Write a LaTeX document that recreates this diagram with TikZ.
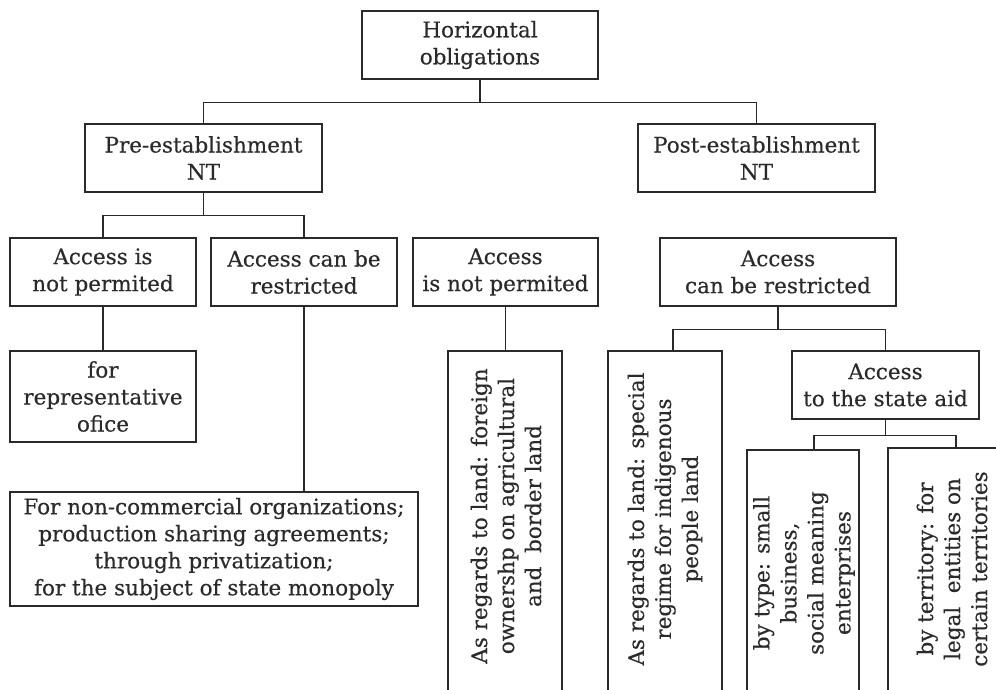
\documentclass[tikz,border=0pt]{standalone}
\usepackage{fontspec}
\setmainfont{DejaVu Serif}
\newfontfamily\inkfont[FakeBold=0.35]{DejaVu Serif}
\usetikzlibrary{calc}
\newcommand\fs{\inkfont\fontsize{21.5}{27}\selectfont}
\definecolor{ink}{HTML}{2A2A2A}
\tikzset{
  box/.style={draw=ink, text=ink, line width=1.2pt, inner sep=0pt, align=center, font=\fs},
  vtext/.style={rotate=90, align=center, text=ink, font=\fs, inner sep=0pt},
  link/.style={draw=ink, line width=1.2pt},
}
\begin{document}
\begin{tikzpicture}[x=1pt,y=-1pt]
\useasboundingbox (0,0) rectangle (996,689);
\clip (0,0) rectangle (996,689);
\fill[white] (0,0) rectangle (996,689);
% level 0
\node[box, minimum width=236pt, minimum height=68pt] (top) at (480,45) {Horizontal\\obligations};
% level 1
\node[box, minimum width=237pt, minimum height=68pt] (pre) at (203.5,158) {Pre-establishment\\NT};
\node[box, minimum width=237pt, minimum height=68pt] (post) at (756.5,158) {Post-establishment\\NT};
% level 2
\node[box, minimum width=186pt, minimum height=68pt] (a1) at (103,272) {Access is\\not permited};
\node[box, minimum width=186pt, minimum height=68pt] (a2) at (304,272) {Access can be\\restricted};
\node[box, minimum width=185pt, minimum height=68pt] (a3) at (505.5,272) {Access\\is not permited};
\node[box, minimum width=236pt, minimum height=68pt] (a4) at (778,272) {Access\\can be restricted};
% level 3
\node[box, minimum width=186pt, minimum height=91pt] (rep) at (103,396.5) {for\\representative\\ofice};
\node[box, minimum width=408pt, minimum height=114pt] (nc) at (214,549) {For non-commercial organizations;\\production sharing agreements;\\through privatization;\\for the subject of state monopoly};
\node[box, minimum width=114pt, minimum height=378pt] (v1) at (505,540) {};
\node[box, minimum width=114pt, minimum height=378pt] (v2) at (665,540) {};
\node[box, minimum width=187pt, minimum height=68pt] (aid) at (885.5,385) {Access\\to the state aid};
% level 4
\node[box, minimum width=112pt, minimum height=280pt] (bt) at (803,590) {};
\node[box, minimum width=114pt, minimum height=282pt] (bter) at (945,589) {};
% rotated texts
\node[vtext] (v1t) at (506,516) {As regards to land: foreign\\ownershp on agricultural\\and\ \ border land};
\node[vtext] (v2t) at (665,519) {As regards to land: special\\regime for indigenous\\people land};
\node[vtext] (btt) at (804,573) {by type: small\\business,\\social meaning\\enterprises};
\node[vtext] (btert) at (952,569) {by territory: for\\legal\ \ entities on\\certain territories};
% connectors
\draw[link] (top.south) -- ++(0,23) -| (pre.north);
\draw[link] (top.south) -- ++(0,23) -| (post.north);
\draw[link] (pre.south) -- ++(0,23) -| (a1.north);
\draw[link] (pre.south) -- ++(0,23) -| (a2.north);
\draw[link] (a1.south) -- (rep.north);
\draw[link] (a2.south) -- (a2.south |- nc.north);
\draw[link] (a3.south) -- (a3.south |- v1.north);
\draw[link] (a4.south) -- ++(0,23) -| ([xshift=8pt]v2.north);
\draw[link] (a4.south) -- ++(0,23) -| (aid.north);
\draw[link] (aid.south) -- ++(0,16) -| ([xshift=11pt]bt.north);
\draw[link] (aid.south) -- ++(0,16) -| ([xshift=11pt]bter.north);
\end{tikzpicture}
\end{document}
